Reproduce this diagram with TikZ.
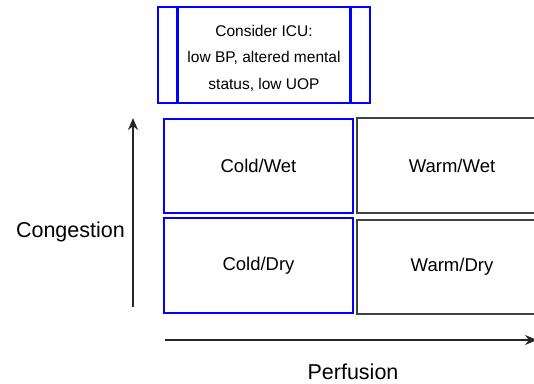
\documentclass[tikz,border=0pt]{standalone}
\usepackage{fontspec}
\setmainfont{Liberation Sans}
\usetikzlibrary{arrows.meta}
\begin{document}
\begin{tikzpicture}[x=1pt,y=-1pt,
  bluebox/.style={draw=blue,line width=2.8pt,rectangle,inner sep=0pt},
  greybox/.style={draw=black!75,line width=1.6pt,rectangle,inner sep=0pt},
  quad/.style={minimum width=189pt,minimum height=94pt,font=\fontsize{18.5}{22}\selectfont},
  axislabel/.style={font=\fontsize{21.5}{25}\selectfont,inner sep=0pt},
  axis/.style={draw=black!85,line width=1.4pt,-{Stealth[length=12pt,width=10pt]}}]
\useasboundingbox (0,0) rectangle (534,383);
\clip (0,0) rectangle (534,383);
% top box
\node[bluebox,minimum width=212pt,minimum height=96pt] (icu) at (264,55) {};
\node[align=center,font=\fontsize{15.5}{26.5}\selectfont] (icutext) at (264,58)
  {Consider ICU:\\low BP, altered mental\\status, low UOP};
\draw[draw=blue,line width=2.8pt] ([xshift=21pt]icu.north west) -- ([xshift=21pt]icu.south west);
\draw[draw=blue,line width=2.8pt] ([xshift=-21pt]icu.north east) -- ([xshift=-21pt]icu.south east);
% quadrants
\node[bluebox,quad] (cw) at (258.5,166) {Cold/Wet};
\node[greybox,quad,minimum width=190pt,minimum height=95pt] (ww) at (452,165.5) {Warm/Wet};
\node[bluebox,quad,minimum height=95pt] (cd) at (258.5,265.5) {Cold/Dry};
\node[greybox,quad,minimum width=190pt,minimum height=94pt] (wd) at (452,267) {Warm/Dry};
% axes
\coordinate (vs) at (133,307);
\coordinate (ve) at (133,118);
\coordinate (hs) at (165,340);
\coordinate (he) at (537,340);
\draw[axis] (vs) -- (ve);
\draw[axis] (hs) -- (he);
\node[axislabel,anchor=east] (cong) at (125,232) {Congestion};
\node[axislabel] (perf) at (353,372) {Perfusion};
\end{tikzpicture}
\end{document}
